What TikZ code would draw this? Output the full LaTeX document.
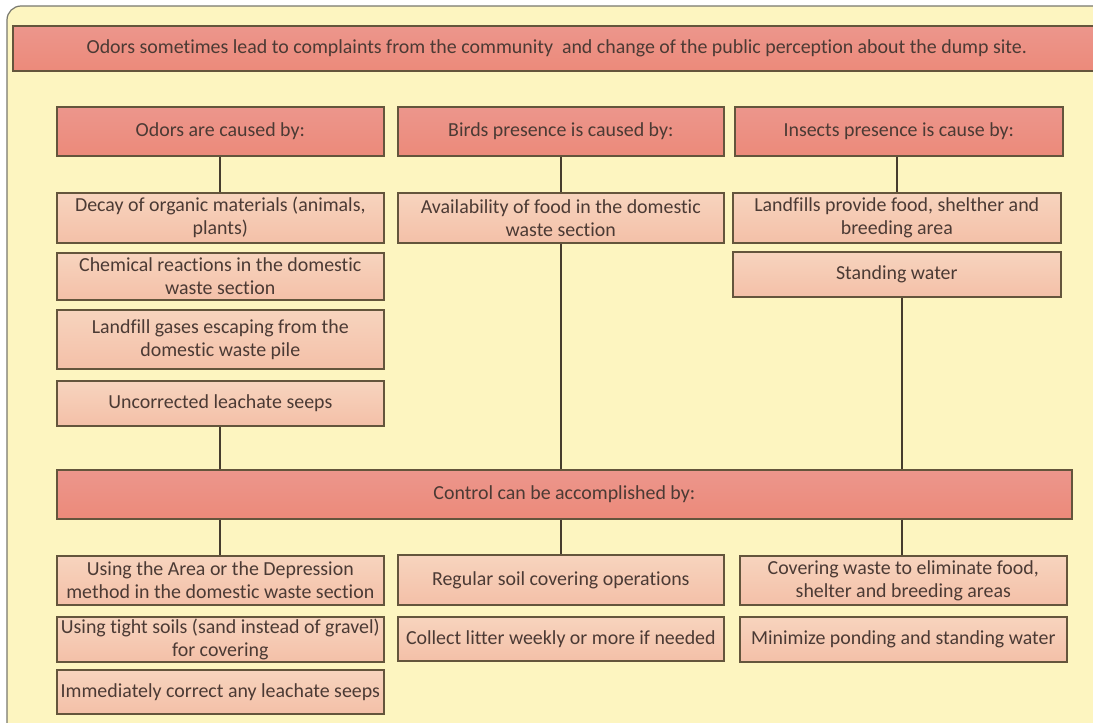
\documentclass[tikz,border=0pt]{standalone}
\usepackage{fontspec}
\setmainfont[RawFeature=-liga]{Carlito}
\definecolor{frameyel}{RGB}{253,245,192}
\definecolor{framebd}{RGB}{120,120,110}
\definecolor{edge}{RGB}{100,85,60}
\definecolor{hdtop}{RGB}{236,150,140}
\definecolor{hdbot}{RGB}{236,138,122}
\definecolor{ittop}{RGB}{247,212,190}
\definecolor{itbot}{RGB}{244,192,168}
\definecolor{txt}{RGB}{75,58,52}
\definecolor{linec}{RGB}{70,60,45}
\begin{document}
\begin{tikzpicture}[
  x=1pt, y=-1pt,
  every node/.style={font=\fontsize{19.9}{23}\selectfont, text=txt},
  hdr/.style={draw=edge, line width=1.6pt, top color=hdtop, bottom color=hdbot,
              anchor=north west, inner sep=0pt, align=center},
  itm/.style={draw=edge, line width=1.6pt, top color=ittop, bottom color=itbot,
              anchor=north west, inner sep=0pt, align=center},
  link/.style={draw=linec, line width=1.4pt}
]
\useasboundingbox (0,0) rectangle (1093,723);
\fill[white] (0,0) rectangle (1093,723);
% outer frame
\draw[framebd, fill=frameyel, line width=1.2pt, rounded corners=14pt] (7,6) rectangle (1120,740);

% title bar
\node[hdr, minimum width=1088pt, minimum height=45pt] (title) at (12,25)
  {Odors sometimes lead to complaints from the community\ \ and change of the public perception about the dump site.};

% headers
\node[hdr, minimum width=327pt, minimum height=49pt] (h1) at (56,106) {Odors are caused by:};
\node[hdr, minimum width=326pt, minimum height=49pt] (h2) at (397,106) {Birds presence is caused by:};
\node[hdr, minimum width=328pt, minimum height=49pt] (h3) at (734,106) {Insects presence is cause by:};

% column 1 causes
\node[itm, minimum width=327pt, minimum height=50pt] (a1) at (56,192) {Decay of organic materials (animals,\\plants)};
\node[itm, minimum width=327pt, minimum height=47pt] (a2) at (56,252) {Chemical reactions in the domestic\\waste section};
\node[itm, minimum width=327pt, minimum height=59pt] (a3) at (56,309) {Landfill gases escaping from the\\domestic waste pile};
\node[itm, minimum width=327pt, minimum height=45pt] (a4) at (56,380) {Uncorrected leachate seeps};

% column 2 causes
\node[itm, minimum width=326pt, minimum height=50pt] (b1) at (397,192) {Availability of food in the domestic\\waste section};

% column 3 causes
\node[itm, minimum width=328pt, minimum height=50pt] (c1) at (732,192) {Landfills provide food, shelther and\\breeding area};
\node[itm, minimum width=328pt, minimum height=45pt] (c2) at (732,251) {Standing water};

% control bar
\node[hdr, minimum width=1015pt, minimum height=49pt] (ctrl) at (56,469) {Control can be accomplished by:};

% bottom column 1
\node[itm, minimum width=327pt, minimum height=49pt] (d1) at (56,555) {Using the Area or the Depression\\method in the domestic waste section};
\node[itm, minimum width=327pt, minimum height=45pt] (d2) at (56,616) {Using tight soils (sand instead of gravel)\\for covering};
\node[itm, minimum width=327pt, minimum height=44pt] (d3) at (56,669) {Immediately correct any leachate seeps};

% bottom column 2
\node[itm, minimum width=326pt, minimum height=50pt] (e1) at (397,554) {Regular soil covering operations};
\node[itm, minimum width=326pt, minimum height=44pt] (e2) at (397,616) {Collect litter weekly or more if needed};

% bottom column 3
\node[itm, minimum width=327pt, minimum height=49pt] (f1) at (739,555) {Covering waste to eliminate food,\\shelter and breeding areas};
\node[itm, minimum width=327pt, minimum height=45pt] (f2) at (739,616) {Minimize ponding and standing water};

% connectors
\draw[link] (h1.south -| 220,0) -- (a1.north -| 220,0);
\draw[link] (a4.south -| 220,0) -- (ctrl.north -| 220,0);
\draw[link] (ctrl.south -| 220,0) -- (d1.north -| 220,0);

\draw[link] (h2.south -| 561,0) -- (b1.north -| 561,0);
\draw[link] (b1.south -| 561,0) -- (ctrl.north -| 561,0);
\draw[link] (ctrl.south -| 561,0) -- (e1.north -| 561,0);

\draw[link] (h3.south -| 897,0) -- (c1.north -| 897,0);
\draw[link] (c2.south -| 902,0) -- (ctrl.north -| 902,0);
\draw[link] (ctrl.south -| 902,0) -- (f1.north -| 902,0);
\end{tikzpicture}
\end{document}
